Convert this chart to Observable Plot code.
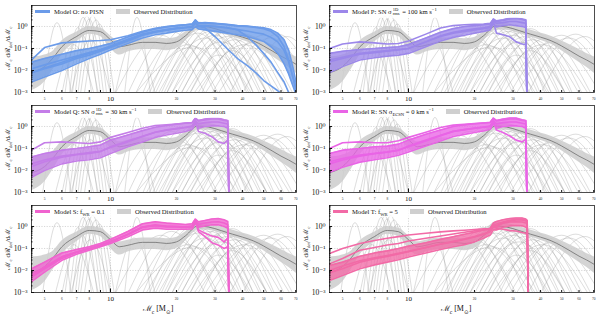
<!DOCTYPE html>
<html><head><meta charset="utf-8">
<script src="https://cdn.jsdelivr.net/npm/d3@7"></script>
<script src="https://cdn.jsdelivr.net/npm/@observablehq/plot@0.6"></script>
<style>
body{margin:0;background:#fff;}
#fig{position:relative;width:598px;height:318px;font-family:"Liberation Serif","DejaVu Serif",serif;overflow:hidden;}
.panel{position:absolute;width:298px;height:100px;}
.panel svg{overflow:visible;position:absolute;left:0;top:0;}
.legend{position:absolute;left:33px;top:6px;display:flex;align-items:center;font-size:6.6px;line-height:9px;background:rgba(255,255,255,0.8);padding:1px 3px 1px 2px;white-space:nowrap;color:#111;}
.sw{display:inline-block;width:15px;height:3px;margin-right:4px;}
.swg{display:inline-block;width:14px;height:5px;background:#cfcfcf;margin:0 4px 0 12px;}
.ss{display:inline-flex;flex-direction:column;font-size:0.7em;line-height:0.9;vertical-align:middle;margin:0 1px;}
sub,sup{font-size:0.7em;line-height:0;}
.ylab{position:absolute;left:7px;top:48px;transform:translate(-50%,-50%) rotate(-90deg);font-size:7px;white-space:nowrap;color:#111;}
.xlab{position:absolute;top:302px;font-size:8px;transform:translateX(-50%);white-space:nowrap;color:#111;}
</style></head>
<body><div id="fig"></div>
<script>
// ---------- observed distribution (shared by all panels) ----------
const obsMass   = [4.36, 5, 5.5, 6, 7, 8, 9, 10, 11, 12, 14, 16, 18, 20, 22, 25, 28, 32, 36, 40, 45, 50, 55, 60, 65, 71];
const obsMedian = [0.008, 0.015, 0.04, 0.12, 0.35, 0.66, 0.58, 0.25, 0.12, 0.14, 0.19, 0.19, 0.17, 0.2, 0.38, 1.05, 0.95, 0.65, 0.45, 0.33, 0.22, 0.13, 0.075, 0.045, 0.03, 0.018];
const obsLow    = [0.0012, 0.003, 0.012, 0.05, 0.2, 0.45, 0.35, 0.1, 0.05, 0.07, 0.09, 0.09, 0.08, 0.1, 0.22, 0.7, 0.68, 0.48, 0.33, 0.24, 0.15, 0.08, 0.042, 0.024, 0.014, 0.007];
const obsHigh   = [0.04, 0.05, 0.08, 0.22, 0.55, 1.0, 0.85, 0.38, 0.2, 0.24, 0.3, 0.3, 0.28, 0.32, 0.56, 1.6, 1.4, 1.0, 0.7, 0.5, 0.35, 0.22, 0.14, 0.09, 0.06, 0.04];

// ---------- individual event posteriors: left foot, peak mass, peak value, right foot ----------
const evLeft     = [4.9, 6.2, 6.5, 6.7, 6.9, 7.1, 7.3, 7.6, 6.0, 6.6, 5.6, 11.6, 10.5, 10.5, 12, 13, 14, 14.5, 15, 15.5, 16, 16.5, 17, 17.5, 18, 18, 19, 19, 20, 21, 21, 22, 23, 24, 25, 27, 29, 31, 35, 40, 26, 23, 13];
const evPeakMass = [5.7, 7.1, 7.5, 7.8, 8.0, 8.3, 8.6, 8.9, 7.3, 8.1, 6.8, 13.2, 12.8, 17, 19, 20, 22, 22.5, 24, 25, 26, 27, 27.5, 28.5, 29, 30, 31, 32, 33, 34, 36, 37, 39, 41, 43, 46, 50, 54, 58, 64, 36, 31, 24];
const evPeakVal  = [1.5, 0.9, 2.6, 3.0, 2.2, 3.2, 2.0, 1.3, 0.5, 0.25, 0.15, 2.6, 0.3, 0.4, 0.6, 0.25, 0.9, 0.15, 1.1, 0.5, 0.8, 0.3, 1.0, 0.6, 0.9, 0.4, 0.7, 0.2, 0.55, 0.35, 0.8, 0.25, 0.45, 0.15, 0.3, 0.2, 0.4, 0.3, 0.45, 0.35, 0.08, 0.05, 0.12];
const evRight    = [6.6, 8.2, 8.7, 9.0, 9.3, 9.6, 10.0, 10.4, 8.8, 10.0, 8.4, 15.2, 16.0, 27, 30, 31, 34, 36, 37, 39, 40, 43, 42, 45, 45, 48, 49, 52, 52, 55, 56, 60, 62, 66, 68, 75, 80, 85, 90, 95, 52, 44, 38];

// ---------- model grids ----------
const gridO = [4.36, 5, 6, 7, 8, 9, 10, 12, 14, 16, 18, 20, 22, 23.6, 24.4, 25.2, 27, 30, 34, 38, 42, 46, 50, 54, 58, 62, 65, 68, 71];
const gridPT = [4.36, 5, 6, 7, 8, 9, 10, 12, 14, 16, 18, 20, 22, 23.6, 24.4, 25.2, 27, 29, 31, 33, 34.3, 34.8, 35.3];

// Model O
const oLow   = [0.003, 0.005, 0.01, 0.02, 0.035, 0.055, 0.085, 0.17, 0.3, 0.42, 0.5, 0.6, 0.67, 0.72, 1.0, 0.78, 0.7, 0.6, 0.5, 0.42, 0.35, 0.27, 0.21, 0.12, 0.06, 0.02, 0.007, 0.002, 0.0006];
const oHigh  = [0.024, 0.035, 0.055, 0.08, 0.1, 0.13, 0.17, 0.33, 0.55, 0.78, 0.96, 1.1, 1.2, 1.28, 2.0, 1.45, 1.5, 1.4, 1.25, 1.1, 1.05, 0.95, 0.87, 0.72, 0.5, 0.25, 0.085, 0.014, 0.0017];
const oMid   = [0.008, 0.013, 0.024, 0.04, 0.06, 0.085, 0.12, 0.24, 0.41, 0.58, 0.7, 0.82, 0.9, 0.96, 1.45, 1.05, 1.05, 1.0, 0.85, 0.72, 0.62, 0.52, 0.45, 0.32, 0.2, 0.08, 0.025, 0.005, 0.001];
const oTop   = [0.03, 0.11, 0.18, 0.2, 0.22, 0.23, 0.25, 0.38, 0.6, 0.82, 1.0, 1.1, 1.2, 1.28, 1.9, 1.4, 1.45, 1.35, 1.2, 1.05, 1.0, 0.9, 0.8, 0.6, 0.35, 0.12, 0.03, 0.005, 0.0008];
const oDropA = [0.008, 0.012, 0.02, 0.035, 0.05, 0.075, 0.11, 0.22, 0.4, 0.55, 0.68, 0.8, 0.88, 0.95, 1.5, 1.0, 0.87, 0.35, 0.1, 0.035, 0.017, 0.008, 0.0035, 0.002, 0.0012, 0.0007, 0.0004, 0.0002, 0.0001];
const oDropB = [0.012, 0.018, 0.03, 0.045, 0.065, 0.09, 0.13, 0.26, 0.45, 0.6, 0.72, 0.85, 0.92, 1.0, 1.5, 1.1, 1.1, 1.0, 0.9, 0.7, 0.35, 0.15, 0.06, 0.024, 0.008, 0.003, 0.001, 0.0004, 0.0001];
// Model P
const pLow  = [0.008, 0.015, 0.03, 0.038, 0.045, 0.05, 0.06, 0.12, 0.22, 0.32, 0.4, 0.5, 0.6, 0.7, 1.3, 0.95, 1.1, 1.2, 1.1, 1.0, 0.9, 1e-4, 1e-4];
const pHigh = [0.06, 0.075, 0.09, 0.1, 0.11, 0.12, 0.15, 0.3, 0.55, 0.8, 1.0, 1.1, 1.2, 1.3, 2.2, 1.8, 2.0, 2.4, 2.5, 2.2, 2.0, 1e-4, 1e-4];
const pMid  = [0.025, 0.035, 0.055, 0.065, 0.075, 0.085, 0.1, 0.2, 0.38, 0.55, 0.68, 0.78, 0.88, 1.0, 1.8, 1.4, 1.5, 1.7, 1.7, 1.5, 1.4, 1e-4, 1e-4];
const pTop  = [0.1, 0.16, 0.2, 0.18, 0.16, 0.17, 0.22, 0.45, 0.85, 1.1, 1.2, 1.25, 1.3, 1.4, 2.0, 1.7, 1.9, 2.2, 2.3, 2.1, 1.9, 1e-4, 1e-4];
const pDip  = [0.03, 0.04, 0.06, 0.07, 0.08, 0.09, 0.1, 0.2, 0.35, 0.5, 0.6, 0.7, 0.8, 0.9, 1.6, 0.5, 0.42, 0.34, 0.2, 0.16, 0.15, 1e-4, 1e-4];
// Model Q
const qLow  = [0.0049, 0.01, 0.02, 0.027, 0.031, 0.038, 0.059, 0.12, 0.2, 0.32, 0.41, 0.49, 0.59, 0.75, 1.33, 0.84, 1.0, 1.07, 1.07, 1.0, 0.84, 1e-4, 1e-4];
const qHigh = [0.041, 0.059, 0.084, 0.1, 0.12, 0.143, 0.24, 0.41, 0.65, 0.93, 1.11, 1.28, 1.43, 1.53, 2.42, 1.89, 2.18, 2.42, 2.42, 2.03, 1.89, 1e-4, 1e-4];
const qMid  = [0.015, 0.025, 0.04, 0.052, 0.06, 0.072, 0.12, 0.22, 0.36, 0.55, 0.68, 0.8, 0.92, 1.05, 1.8, 1.3, 1.5, 1.6, 1.6, 1.4, 1.3, 1e-4, 1e-4];
const qTop  = [0.084, 0.183, 0.2, 0.183, 0.17, 0.2, 0.32, 0.53, 0.84, 1.11, 1.2, 1.3, 1.4, 1.5, 2.3, 1.8, 2.0, 2.2, 2.2, 1.9, 1.8, 1e-4, 1e-4];
const qDip  = [0.02, 0.03, 0.045, 0.055, 0.065, 0.075, 0.11, 0.2, 0.35, 0.55, 0.7, 0.8, 0.9, 1.0, 1.7, 0.59, 0.49, 0.345, 0.2, 0.17, 0.24, 1e-4, 1e-4];
// Model R
const rLow  = [0.0084, 0.014, 0.024, 0.031, 0.038, 0.049, 0.07, 0.13, 0.22, 0.35, 0.44, 0.53, 0.63, 0.75, 1.33, 0.84, 1.0, 1.07, 1.07, 1.0, 0.84, 1e-4, 1e-4];
const rHigh = [0.059, 0.084, 0.1, 0.12, 0.128, 0.158, 0.24, 0.44, 0.7, 1.0, 1.19, 1.33, 1.43, 1.53, 2.42, 1.89, 2.18, 2.42, 2.42, 2.03, 1.89, 1e-4, 1e-4];
const rMid  = [0.02, 0.03, 0.045, 0.058, 0.068, 0.082, 0.13, 0.24, 0.4, 0.6, 0.72, 0.84, 0.95, 1.05, 1.8, 1.3, 1.5, 1.6, 1.6, 1.4, 1.3, 1e-4, 1e-4];
const rTop  = [0.1, 0.183, 0.2, 0.183, 0.183, 0.226, 0.32, 0.55, 0.9, 1.15, 1.25, 1.35, 1.45, 1.55, 2.3, 1.8, 2.0, 2.2, 2.2, 1.9, 1.8, 1e-4, 1e-4];
const rDip  = [0.025, 0.035, 0.05, 0.06, 0.07, 0.085, 0.12, 0.22, 0.38, 0.6, 0.72, 0.82, 0.92, 1.0, 1.7, 0.7, 0.53, 0.37, 0.24, 0.2, 0.26, 1e-4, 1e-4];
// Model S
const sLow  = [0.0031, 0.0084, 0.029, 0.055, 0.084, 0.12, 0.17, 0.345, 0.7, 0.84, 0.75, 0.75, 0.75, 0.78, 1.43, 0.93, 1.07, 1.19, 1.19, 1.0, 0.84, 1e-4, 1e-4];
const sHigh = [0.012, 0.024, 0.063, 0.09, 0.12, 0.17, 0.26, 0.59, 1.33, 1.64, 1.43, 1.33, 1.24, 1.33, 2.18, 1.64, 1.89, 2.18, 2.3, 2.03, 1.7, 1e-4, 1e-4];
const sMid  = [0.006, 0.014, 0.043, 0.07, 0.1, 0.145, 0.21, 0.45, 0.95, 1.15, 1.05, 1.0, 0.97, 1.05, 1.8, 1.25, 1.45, 1.6, 1.65, 1.45, 1.2, 1e-4, 1e-4];
const sDip1 = [0.006, 0.014, 0.04, 0.07, 0.1, 0.14, 0.2, 0.45, 0.95, 1.15, 1.0, 1.0, 0.95, 1.0, 1.8, 0.7, 0.49, 0.37, 0.32, 0.2, 0.3, 1e-4, 1e-4];
const sDip2 = [0.005, 0.012, 0.035, 0.065, 0.095, 0.13, 0.19, 0.42, 0.9, 1.1, 0.95, 0.95, 0.9, 0.95, 1.7, 0.59, 0.345, 0.183, 0.143, 0.1, 0.12, 1e-4, 1e-4];
// Model T
const tLow  = [0.0035, 0.0059, 0.012, 0.018, 0.024, 0.031, 0.041, 0.063, 0.09, 0.12, 0.15, 0.2, 0.29, 0.41, 0.7, 0.7, 0.93, 1.07, 1.11, 1.07, 0.93, 0.84, 1e-4];
const tHigh = [0.017, 0.024, 0.044, 0.063, 0.078, 0.1, 0.128, 0.183, 0.26, 0.345, 0.44, 0.55, 0.7, 0.84, 1.43, 1.7, 2.03, 2.3, 2.42, 2.42, 2.18, 1.89, 1e-4];
const tMid  = [0.008, 0.012, 0.024, 0.034, 0.044, 0.056, 0.072, 0.11, 0.155, 0.2, 0.26, 0.33, 0.45, 0.58, 1.0, 1.1, 1.4, 1.6, 1.65, 1.6, 1.45, 1.3, 1e-4];
const tTop1 = [0.059, 0.1, 0.17, 0.23, 0.29, 0.345, 0.41, 0.49, 0.57, 0.63, 0.68, 0.73, 0.78, 0.81, 1.19, 0.93, 1.5, 1.8, 2.0, 2.0, 1.8, 1.6, 1e-4];
const tTop2 = [0.02, 0.035, 0.084, 0.111, 0.143, 0.17, 0.218, 0.29, 0.37, 0.46, 0.55, 0.63, 0.7, 0.75, 1.2, 1.3, 1.6, 1.9, 2.1, 2.1, 1.9, 1.7, 1e-4];
const tDip  = [0.01, 0.016, 0.028, 0.038, 0.048, 0.06, 0.075, 0.11, 0.16, 0.21, 0.27, 0.35, 0.45, 0.6, 1.0, 0.84, 0.75, 0.65, 0.62, 0.53, 0.49, 0.41, 1e-4];

// ---------- ticks ----------
const yMajor = [0.001, 0.01, 0.1, 1];
const yMajorLabels = ["10⁻³", "10⁻²", "10⁻¹", "10⁰"];
const yMinor = [2,3,4,5,6,7,8,9].flatMap(k => [k*1e-3, k*1e-2, k*1e-1, k]);
const xMajor = [10];
const xMinor = [5, 6, 7, 8, 9, 20, 30, 40, 50, 60, 70];
const gridYs = [1, 0.1, 0.01];

// ---------- panel table ----------
const panels = [
  {left: 0,   top: 0,   color: "#6b9be9", grid: gridO,  low: oLow, high: oHigh, lines: [oLow, oHigh, oMid, oTop, oDropA, oDropB],
   legend: "Model O: no PISN"},
  {left: 298, top: 0,   color: "#9c87ea", grid: gridPT, low: pLow, high: pHigh, lines: [pLow, pHigh, pMid, pTop, pDip],
   legend: 'Model P: SN σ<span class="ss"><span>1D</span><span>rms</span></span> = 100 km s<sup>−1</sup>'},
  {left: 0,   top: 100, color: "#c47de8", grid: gridPT, low: qLow, high: qHigh, lines: [qLow, qHigh, qMid, qTop, qDip],
   legend: 'Model Q: SN σ<span class="ss"><span>1D</span><span>rms</span></span> = 30 km s<sup>−1</sup>'},
  {left: 298, top: 100, color: "#e964e6", grid: gridPT, low: rLow, high: rHigh, lines: [rLow, rHigh, rMid, rTop, rDip],
   legend: 'Model R: SN σ<sub>ECSN</sub> = 0 km s<sup>−1</sup>'},
  {left: 0,   top: 200, color: "#f063cf", grid: gridPT, low: sLow, high: sHigh, lines: [sLow, sHigh, sMid, sDip1, sDip2],
   legend: 'Model S: f<sub>WR</sub> = 0.1'},
  {left: 298, top: 200, color: "#f26aa6", grid: gridPT, low: tLow, high: tHigh, lines: [tLow, tHigh, tMid, tTop1, tTop2, tDip],
   legend: 'Model T: f<sub>WR</sub> = 5'}
];

const obsData = obsMass.map((m, i) => ({m, med: obsMedian[i], lo: obsLow[i], hi: obsHigh[i]}));
const eventPts = evPeakMass.flatMap((pm, i) => [
  {k: i, m: evLeft[i], v: 0.0009},
  {k: i, m: pm, v: evPeakVal[i]},
  {k: i, m: evRight[i], v: 0.0009}
]);

const fig = document.getElementById("fig");
const fontFam = '"Liberation Serif","DejaVu Serif",serif';

panels.forEach((p, idx) => {
  const band = p.grid.map((m, i) => ({m, lo: p.low[i], hi: p.high[i]}));
  const lineData = p.lines.flatMap((arr, k) => arr.map((v, i) => ({k, m: p.grid[i], v})));
  const chart = Plot.plot({
    width: 298, height: 100,
    marginLeft: 31, marginRight: 2, marginTop: 5, marginBottom: 8,
    x: {type: "log", domain: [4.36, 70.6], label: null},
    y: {type: "log", domain: [1e-3, 9], label: null},
    style: {fontFamily: fontFam, background: "transparent", overflow: "visible", color: "#111"},
    marks: [
      Plot.ruleY(gridYs, {stroke: "#bdbdbd", strokeWidth: 0.6, strokeDasharray: "1.2,1.4"}),
      Plot.ruleX(xMajor, {stroke: "#bdbdbd", strokeWidth: 0.6, strokeDasharray: "1.2,1.4"}),
      Plot.line(eventPts, {x: "m", y: "v", z: "k", curve: "monotone-x", stroke: "#9a9a9a", strokeWidth: 0.4, strokeOpacity: 0.85, clip: true}),
      Plot.areaY(obsData, {x: "m", y1: "lo", y2: "hi", fill: "#cdcdcd", fillOpacity: 0.85, curve: "monotone-x", clip: true}),
      Plot.line(obsData, {x: "m", y: "med", stroke: "#606060", strokeWidth: 0.7, curve: "monotone-x", clip: true}),
      Plot.areaY(band, {x: "m", y1: "lo", y2: "hi", fill: p.color, fillOpacity: 0.78, clip: true}),
      Plot.line(lineData, {x: "m", y: "v", z: "k", stroke: p.color, strokeWidth: 1.6, strokeOpacity: 1, clip: true}),
      Plot.frame({stroke: "#222", strokeWidth: 0.8}),
      Plot.axisY({ticks: yMajor, tickFormat: d => yMajorLabels[yMajor.indexOf(d)], tickSize: -3, tickPadding: 7, fontSize: 7.5, fill: "#111", label: null}),
      Plot.axisY({ticks: yMinor, tickFormat: () => "", tickSize: -1.5, label: null}),
      Plot.axisX({ticks: xMajor, tickFormat: d => String(d), tickSize: -3.5, tickPadding: 7.5, fontSize: 7, fill: "#111", label: null}),
      Plot.axisX({ticks: xMinor, tickFormat: d => String(d), tickSize: -2, tickPadding: 6.5, fontSize: 3.5, fill: "#333", label: null})
    ]
  });
  const div = document.createElement("div");
  div.className = "panel";
  div.style.left = p.left + "px";
  div.style.top = p.top + "px";
  div.appendChild(chart);
  const leg = document.createElement("div");
  leg.className = "legend";
  leg.innerHTML = `<span class="sw" style="background:${p.color}"></span><span>${p.legend}</span><span class="swg"></span><span>Observed Distribution</span>`;
  div.appendChild(leg);
  const yl = document.createElement("div");
  yl.className = "ylab";
  yl.innerHTML = "ℳ<sub>c</sub> dℛ<sub>det</sub>/dℳ<sub>c</sub>";
  div.appendChild(yl);
  fig.appendChild(div);
});

[158, 456].forEach(x => {
  const xl = document.createElement("div");
  xl.className = "xlab";
  xl.style.left = x + "px";
  xl.innerHTML = "ℳ<sub>c</sub> [M<sub>⊙</sub>]";
  fig.appendChild(xl);
});
</script>
</body></html>
